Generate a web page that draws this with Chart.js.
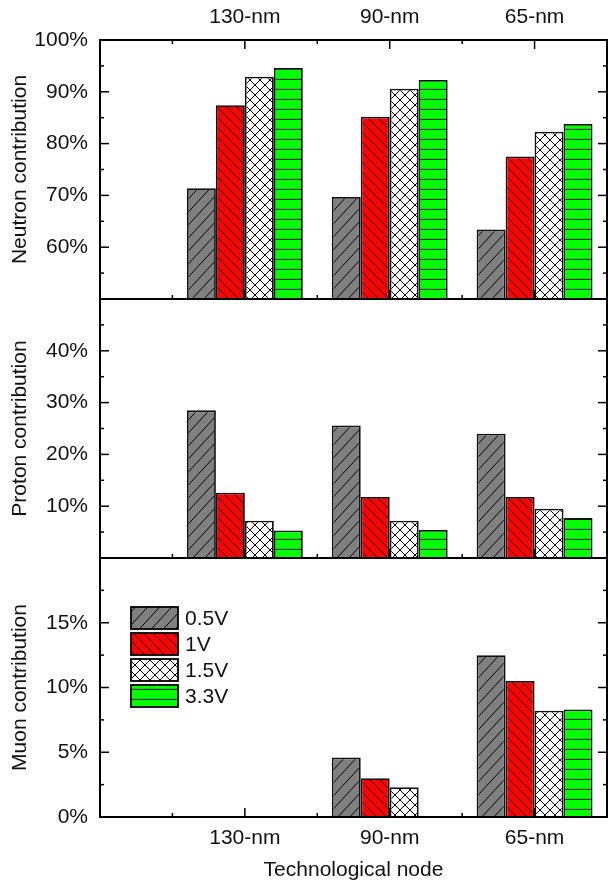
<!DOCTYPE html>
<html><head><meta charset="utf-8">
<script src="https://cdn.jsdelivr.net/npm/chart.js@4.4.1/dist/chart.umd.min.js"></script>
<style>
html,body{margin:0;padding:0;background:#fff;}
#wrap{position:relative;width:608px;height:884px;background:#fff;}
canvas{position:absolute;left:0;top:0;}
</style></head><body>
<div id="wrap">
<canvas id="c1" width="608" height="884"></canvas>
<canvas id="c2" width="608" height="884"></canvas>
<canvas id="c3" width="608" height="884"></canvas>
</div>
<script>
const categories = ['130-nm', '90-nm', '65-nm'];
const voltages = ['0.5V', '1V', '1.5V', '3.3V'];

const neutron05 = [71.4, 69.7, 63.4];
const neutron1  = [87.4, 85.2, 77.5];
const neutron15 = [92.9, 90.6, 82.3];
const neutron33 = [94.6, 92.3, 83.8];

const proton05 = [28.5, 25.6, 24.0];
const proton1  = [12.6, 11.8, 11.8];
const proton15 = [7.2, 7.2, 9.5];
const proton33 = [5.3, 5.4, 7.7];

const muon05 = [null, 4.6, 12.5];
const muon1  = [null, 3.0, 10.5];
const muon15 = [null, 2.3, 8.2];
const muon33 = [null, null, 8.3];

const neutronTicks = [60, 70, 80, 90, 100];
const protonTicks = [10, 20, 30, 40];
const muonTicks = [0, 5, 10, 15];

const FONT = {family: "'Liberation Sans', Arial, sans-serif", size: 21};
const TXT = '#111';

function makePattern(kind, bg, W, H) {
  const c = document.createElement('canvas');
  c.width = W; c.height = H;
  const g = c.getContext('2d');
  g.fillStyle = bg; g.fillRect(0, 0, W, H);
  g.strokeStyle = kind === 'h' ? '#0a300a' : '#000';
  g.lineWidth = kind === 'h' ? 1.3 : 1;
  g.beginPath();
  if (kind === '/' || kind === 'x') {
    for (let k = -1; k <= 1; k++) { g.moveTo(k * W, H); g.lineTo(k * W + W, 0); }
  }
  if (kind === '\\' || kind === 'x') {
    for (let k = -1; k <= 1; k++) { g.moveTo(k * W, 0); g.lineTo(k * W + W, H); }
  }
  if (kind === 'h') { g.moveTo(0, H - 0.5); g.lineTo(W, H - 0.5); }
  g.stroke();
  return g.createPattern(c, 'repeat');
}
const fills = [
  makePattern('/', '#808080', 12, 13),
  makePattern('\\', '#ff0000', 10, 10),
  makePattern('x', '#ffffff', 10, 10),
  makePattern('h', '#00ff00', 10, 10)
];

const framePlugin = {
  id: 'frame',
  afterDraw(chart, args, opts) {
    const {ctx, chartArea: {left, right, top, bottom}, scales: {x, y}} = chart;
    ctx.save();
    ctx.strokeStyle = '#000';
    ctx.lineWidth = 1.5;
    const line = (a, b, c, d) => { ctx.beginPath(); ctx.moveTo(a, b); ctx.lineTo(c, d); ctx.stroke(); };
    for (let v = y.min + opts.minor; v < y.max - 1e-6; v += opts.minor) {
      const py = y.getPixelForValue(v);
      const r = v / opts.major;
      const len = Math.abs(r - Math.round(r)) < 1e-6 ? 9 : 4;
      line(left, py, left + len, py);
      line(right, py, right - len, py);
    }
    for (let v = 0.5; v < x.max - 1e-6; v += 0.5) {
      const px = x.getPixelForValue(v);
      const len = Number.isInteger(v) ? 9 : 4;
      line(px, bottom, px, bottom - len);
      if (opts.topTicks) line(px, top, px, top + len);
    }
    ctx.lineWidth = 2;
    ctx.strokeRect(left, top, right - left, bottom - top);
    ctx.restore();
  }
};

const legendPlugin = {
  id: 'boxLegend',
  afterDraw(chart, args, opts) {
    if (!opts.show) return;
    const {ctx, chartArea: {left, top}} = chart;
    ctx.save();
    chart.data.datasets.forEach((ds, i) => {
      const bx = left + 31, by = top + 49 + i * 26, bw = 47, bh = 22;
      ctx.fillStyle = ds.backgroundColor;
      ctx.fillRect(bx, by, bw, bh);
      ctx.strokeStyle = '#000'; ctx.lineWidth = 1.8;
      ctx.strokeRect(bx, by, bw, bh);
      ctx.fillStyle = TXT;
      ctx.font = FONT.size + 'px ' + FONT.family;
      ctx.textBaseline = 'middle';
      ctx.textAlign = 'left';
      ctx.fillText(ds.label, bx + bw + 7, by + bh / 2 + 1);
    });
    ctx.restore();
  }
};

function makePanel(id, series, yMin, yMax, tickArr, minor, major, title, xMode, padding, showLegend) {
  const datasets = series.map((vals, i) => ({
    label: voltages[i],
    data: vals.map((v, j) => ({x: j + 1, y: v})),
    backgroundColor: fills[i],
    borderColor: '#111',
    borderWidth: 1.8,
    categoryPercentage: 0.8,
    barPercentage: 1.0
  }));
  return new Chart(document.getElementById(id), {
    type: 'bar',
    data: {datasets},
    plugins: [framePlugin, legendPlugin],
    options: {
      responsive: false,
      animation: false,
      events: [],
      layout: {padding},
      plugins: {
        legend: {display: false},
        tooltip: {enabled: false},
        frame: {minor, major, topTicks: xMode === 'top'},
        boxLegend: {show: showLegend}
      },
      scales: {
        x: {
          type: 'linear', min: 0, max: 3.5, offset: false,
          position: xMode === 'top' ? 'top' : 'bottom',
          display: xMode !== 'none',
          grid: {display: false, drawTicks: false, offset: false},
          border: {display: false},
          ticks: {
            font: FONT, color: TXT, autoSkip: false, maxRotation: 0,
            padding: xMode === 'top' ? 10 : 9,
            callback: v => categories[v - 1] ?? ''
          },
          afterBuildTicks: s => { s.ticks = categories.map((c, i) => ({value: i + 1})); },
          afterFit: s => { s.height = xMode === 'top' ? 40 : (xMode === 'bottom' ? 67 : 0); },
          title: xMode === 'bottom'
            ? {display: true, text: 'Technological node', font: FONT, color: TXT, padding: {top: 0, bottom: 1}}
            : {display: false}
        },
        y: {
          min: yMin, max: yMax, position: 'left',
          grid: {display: false, drawTicks: false},
          border: {display: false},
          ticks: {font: FONT, color: TXT, padding: 12, callback: v => v + '%'},
          afterBuildTicks: s => { s.ticks = tickArr.map(v => ({value: v})); },
          afterFit: s => { s.width = 100; },
          title: {display: true, text: title, font: FONT, color: TXT, padding: {top: 8, bottom: 0}}
        }
      }
    }
  });
}

makePanel('c1', [neutron05, neutron1, neutron15, neutron33], 50, 100, neutronTicks, 5, 10,
  'Neutron contribution', 'top', {top: 0, bottom: 585, left: 0, right: 1}, false);
makePanel('c2', [proton05, proton1, proton15, proton33], 0, 50, protonTicks, 5, 10,
  'Proton contribution', 'none', {top: 299, bottom: 326, left: 0, right: 1}, false);
makePanel('c3', [muon05, muon1, muon15, muon33], 0, 20, muonTicks, 2.5, 5,
  'Muon contribution', 'bottom', {top: 558, bottom: 0, left: 0, right: 1}, true);
</script>
</body></html>
